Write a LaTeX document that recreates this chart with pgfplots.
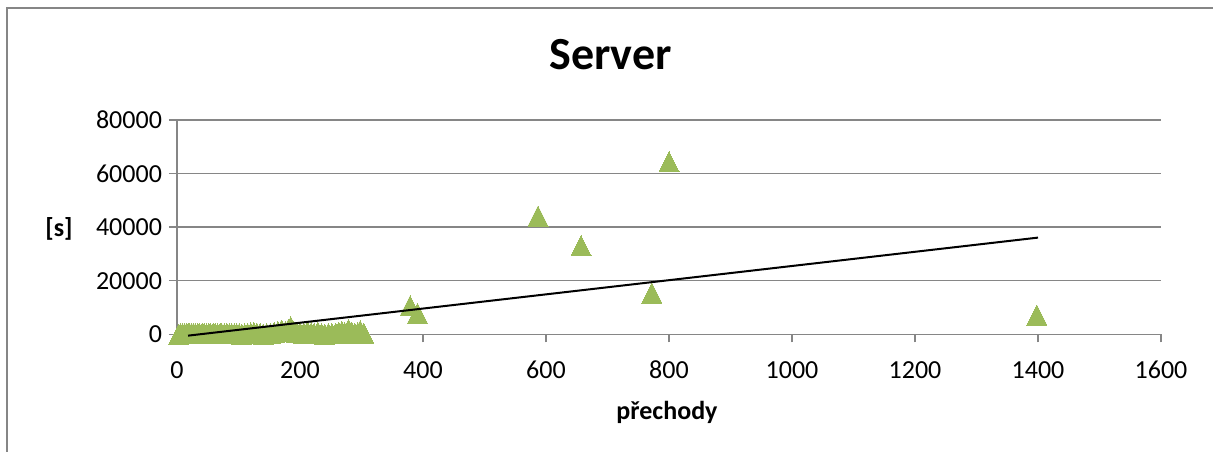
\documentclass[border=0pt]{standalone}
\usepackage{fontspec}
\setmainfont{Carlito}
\usepackage{pgfplots}
\pgfplotsset{compat=1.18}
\definecolor{mkgreen}{HTML}{9BBB59}
\definecolor{gridgray}{HTML}{868686}
\begin{document}
\begin{tikzpicture}
\path[use as bounding box] (-88.5pt,-58.35pt) rectangle (518pt,167.15pt);
\draw[gridgray, line width=1pt] (-85pt,-60pt) -- (-85pt,163.4pt) -- (520pt,163.4pt);
\begin{axis}[
  at={(0,0)}, anchor=south west,
  scale only axis, width=492pt, height=107.15pt,
  xmin=0, xmax=1600, ymin=0, ymax=80000,
  xtick={0,200,...,1600}, ytick={0,20000,...,80000},
  axis x line*=bottom, axis y line*=left,
  axis line style={gridgray, line width=0.75pt},
  ymajorgrids, grid style={gridgray, line width=0.75pt},
  tick style={gridgray, line width=0.75pt},
  tick align=outside, major tick length=4pt,
  clip=false, clip marker paths=true, scaled ticks=false,
  /pgf/number format/1000 sep={},
  /pgf/number format/assume math mode=true,
  ticklabel style={font=\fontsize{13}{15}\selectfont},
  xticklabel style={anchor=base, yshift=-18pt},
  yticklabel style={anchor=east},
]
\addplot[only marks, mark=triangle*, mark size=5.77pt,
  mark options={fill=mkgreen, draw=mkgreen, line width=0pt, yshift=-1.67pt, yscale=1.155}]
coordinates {
(3,100)(6,250)(9,150)(12,300)(15,200)(18,350)(21,150)(24,250)(27,400)(30,200)
(34,300)(37,150)(41,350)(44,250)(48,200)(52,300)(55,150)(59,350)(62,250)(66,200)
(70,300)(73,150)(77,250)(81,350)(85,200)(89,300)(93,150)(97,250)(101,200)(105,100)
(110,150)(115,300)(120,500)(125,600)(130,400)(135,200)(140,100)(146,250)(152,400)
(158,700)(164,1000)(170,1600)(176,900)(181,1800)(185,2800)(190,1100)(195,500)
(200,700)(206,400)(212,1000)(218,500)(223,300)(229,800)(235,200)(240,100)(246,300)
(252,200)(258,400)(263,700)(268,1100)(273,500)(279,1800)(284,800)(289,400)(294,600)
(298,1400)(304,200)
(379,10600)(391,7800)(587,44100)(657,33100)(772,15400)(800,64400)(1398,7200)
};
\addplot[black, line width=1pt, no marks] coordinates {(18,-500) (1400,36100)};
\end{axis}
\node[anchor=base, font=\fontsize{23}{27}\selectfont\bfseries] at (216.75pt,132.65pt) {Server};
\node[font=\fontsize{13}{15}\selectfont\bfseries] at (-59pt,52.65pt) {[s]};
\node[anchor=base, font=\fontsize{13}{15}\selectfont\bfseries] at (245pt,-42.5pt) {přechody};
\end{tikzpicture}
\end{document}
